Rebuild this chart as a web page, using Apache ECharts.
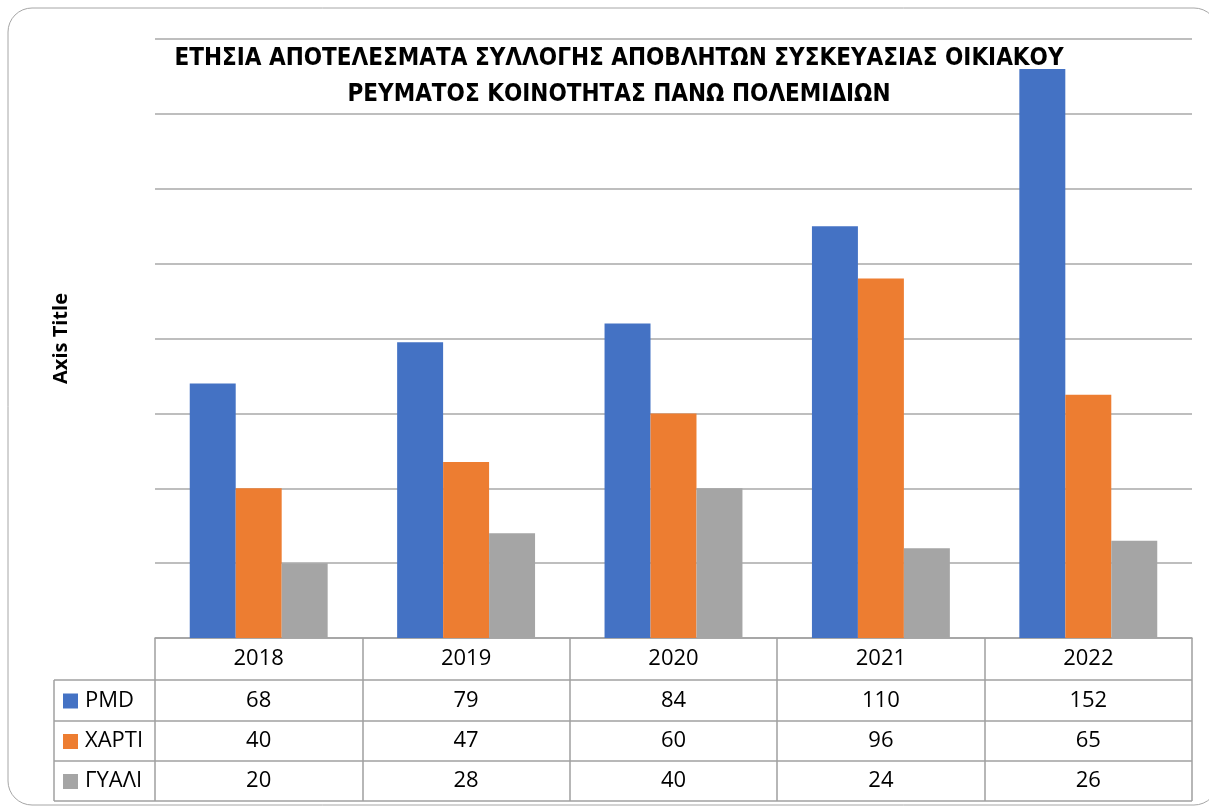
<!DOCTYPE html>
<html>
<head>
<meta charset="utf-8">
<script src="https://cdn.jsdelivr.net/npm/echarts@6/dist/echarts.min.js"></script>
<style>html,body{margin:0;padding:0;background:#fff;}#c{width:1209px;height:810px;}</style>
</head>
<body>
<div id="c"></div>
<script>
var years = ['2018', '2019', '2020', '2021', '2022'];
var pmd = [68, 79, 84, 110, 152];
var xarti = [40, 47, 60, 96, 65];
var gyali = [20, 28, 40, 24, 26];
var seriesNames = ['PMD', 'ΧΑΡΤΙ', 'ΓΥΑΛΙ'];
var colors = ['#4472C4', '#ED7D31', '#A5A5A5'];
var seriesData = [pmd, xarti, gyali];
var titleText = 'ΕΤΗΣΙΑ ΑΠΟΤΕΛΕΣΜΑΤΑ ΣΥΛΛΟΓΗΣ ΑΠΟΒΛΗΤΩΝ ΣΥΣΚΕΥΑΣΙΑΣ ΟΙΚΙΑΚΟΥ\nΡΕΥΜΑΤΟΣ ΚΟΙΝΟΤΗΤΑΣ ΠΑΝΩ ΠΟΛΕΜΙΔΙΩΝ';

var chart = echarts.init(document.getElementById('c'), null, {renderer: 'canvas'});
var lineColor = '#a0a0a0';
var tableFont = '"Open Sans", "Liberation Sans", sans-serif';

var option = {
  animation: false,
  backgroundColor: '#fff',
  title: {
    text: titleText,
    left: 614,
    top: 36,
    textAlign: 'center',
    textStyle: {
      fontFamily: '"Liberation Sans Narrow", "DejaVu Sans Condensed", sans-serif',
      fontWeight: 'bold',
      fontSize: 24,
      lineHeight: 36,
      color: '#000'
    }
  },
  grid: {left: 155, right: 17, top: 39, bottom: 172},
  xAxis: {
    type: 'category',
    data: years,
    axisLine: {show: true, lineStyle: {color: lineColor, width: 1.5}},
    axisTick: {show: true, interval: 0, length: 163, lineStyle: {color: lineColor, width: 1.5}},
    axisLabel: {margin: 10, fontSize: 22, lineHeight: 22, color: '#000', fontFamily: tableFont}
  },
  yAxis: {
    type: 'value',
    min: 0, max: 160, interval: 20,
    axisLabel: {show: false},
    axisLine: {show: false},
    axisTick: {show: false},
    splitLine: {lineStyle: {color: '#a8a8a8', width: 1.5}},
    name: 'Axis Title',
    nameLocation: 'middle',
    nameGap: 84,
    nameRotate: 90,
    nameTextStyle: {fontSize: 20, fontWeight: 'bold', color: '#000', fontFamily: tableFont}
  },
  series: seriesData.map(function (d, i) {
    return {
      name: seriesNames[i],
      type: 'bar',
      data: d,
      barGap: '0%',
      barCategoryGap: '33.5%',
      itemStyle: {color: colors[i]}
    };
  })
};
chart.setOption(option);

// Data table below the plot
var g = [];
var rowTops = [680, 721, 761, 801];
var leftX = 54, plotL = 155, plotR = 1192;
g.push({type: 'rect', shape: {x: 8, y: 8, width: 1210, height: 797, r: 24}, style: {fill: null, stroke: '#a6a6a6', lineWidth: 1}, z: 0});
rowTops.forEach(function (y) {
  g.push({type: 'line', shape: {x1: leftX, y1: y, x2: plotR, y2: y}, style: {stroke: lineColor, lineWidth: 1.5}});
});
g.push({type: 'line', shape: {x1: leftX, y1: rowTops[0], x2: leftX, y2: rowTops[3]}, style: {stroke: lineColor, lineWidth: 1.5}});
seriesNames.forEach(function (name, i) {
  var yc = (rowTops[i] + rowTops[i + 1]) / 2;
  g.push({type: 'rect', shape: {x: 63, y: yc - 7, width: 15, height: 15}, style: {fill: colors[i]}});
  g.push({type: 'text', x: 85, y: yc, style: {text: name, fontSize: 22, fontFamily: tableFont, fill: '#000', textVerticalAlign: 'middle', verticalAlign: 'middle'}});
  seriesData[i].forEach(function (v, j) {
    var px = chart.convertToPixel({xAxisIndex: 0}, years[j]);
    g.push({type: 'text', x: px, y: yc, style: {text: String(v), fontSize: 22, fontFamily: tableFont, fill: '#000', textAlign: 'center', align: 'center', textVerticalAlign: 'middle', verticalAlign: 'middle'}});
  });
});
chart.setOption({graphic: {elements: g}});
</script>
</body>
</html>
